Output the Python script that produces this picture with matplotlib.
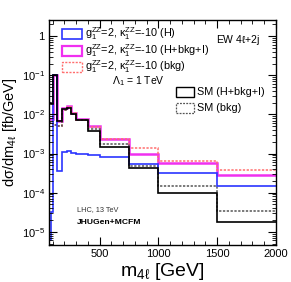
import matplotlib.pyplot as plt
import numpy as np
from matplotlib.patches import Rectangle
from matplotlib.ticker import MultipleLocator, LogLocator, FixedLocator, NullFormatter

plt.rcParams.update({'font.family': ['Liberation Sans', 'DejaVu Sans'],
                     'mathtext.fontset': 'custom',
                     'mathtext.rm': 'Liberation Sans',
                     'mathtext.it': 'Liberation Sans:italic',
                     'mathtext.default': 'regular'})

# bin edges in m4l [GeV]
edges = [70, 90, 100, 140, 180, 220, 260, 300, 400, 500, 750, 1000, 1500, 2000]

# g1=2, k1=-10 curves
bsm_h = [6e-6, 3.3e-5, 0.1, 3.6e-4, 1.1e-3, 1.14e-3, 1.06e-3, 1.0e-3, 9.3e-4, 8.1e-4, 5.4e-4, 3.2e-4, 1.45e-4]
bsm_all = [7.5e-3, 7.5e-3, 0.1, 6.7e-3, 1.45e-2, 1.6e-2, 1.1e-2, 7.6e-3, 5.0e-3, 2.35e-3, 1.0e-3, 5.6e-4, 2.9e-4]
bsm_bkg = [6.0e-3, 6.0e-3, 5.5e-3, 5.2e-3, 1.3e-2, 1.55e-2, 1.1e-2, 7.3e-3, 4.7e-3, 2.4e-3, 1.35e-3, 6.4e-4, 3.7e-4]

# SM curves
sm_all = [2.0e-2, 1.8e-2, 0.1, 6.7e-3, 1.35e-2, 1.5e-2, 1.0e-2, 7.1e-3, 3.7e-3, 1.45e-3, 4.2e-4, 9.6e-5, 1.8e-5]
sm_bkg = [6.0e-3, 6.0e-3, 5.5e-3, 5.2e-3, 1.3e-2, 1.5e-2, 1.05e-2, 7.2e-3, 4.3e-3, 1.8e-3, 4.8e-4, 1.5e-4, 3.5e-5]

W, H = 291, 282
fig = plt.figure(figsize=(W / 100, H / 100), dpi=100)
ax = fig.add_axes([49 / W, 1 - 245 / H, 227 / W, 225 / H])

blue = '#2b35ff'
magenta = '#f030f0'
pink = '#ff6f6f'
grey = '#555555'

ax.stairs(bsm_all, edges, baseline=None, color=magenta, lw=1.8)
ax.stairs(bsm_bkg, edges, baseline=None, color=pink, lw=1.1, ls=(0, (1.5, 1)))
ax.stairs(sm_bkg, edges, baseline=None, color=grey, lw=1.1, ls=(0, (1.5, 1)))
ax.stairs(bsm_h, edges, baseline=None, color=blue, lw=1.2)
ax.stairs(sm_all, edges, baseline=None, color='black', lw=1.2)

ax.set_yscale('log')
ax.set_xlim(70, 2000)
ax.set_ylim(4.6e-6, 2.6)

ax.xaxis.set_major_locator(FixedLocator([500, 1000, 1500, 2000]))
ax.xaxis.set_minor_locator(MultipleLocator(100))
ax.yaxis.set_minor_locator(LogLocator(base=10, subs=np.arange(2, 10), numticks=20))
ax.yaxis.set_minor_formatter(NullFormatter())
ax.set_yticks([1e-5, 1e-4, 1e-3, 1e-2, 1e-1, 1])
ax.set_yticklabels(['10$^{-5}$', '10$^{-4}$', '10$^{-3}$', '10$^{-2}$', '10$^{-1}$', '1'])
ax.tick_params(which='both', direction='in', top=True, right=True, labelsize=8, pad=3)
ax.tick_params(which='major', length=6, width=0.8)
ax.tick_params(which='minor', length=3, width=0.6)
for s in ax.spines.values():
    s.set_linewidth(1.0)

ax.set_xlabel(r'm$_{4\ell}$ [GeV]', fontsize=14, labelpad=1)
ax.set_ylabel(r'd$\sigma$/dm$_{4\ell}$ [fb/GeV]', fontsize=10.5, labelpad=2)


def fx(px):
    return (px - 49) / 227


def fy(py):
    return (245 - py) / 225


def legend_row(x0, y, w, h, color, ls, lw, label):
    ax.add_patch(Rectangle((fx(x0), fy(y + h / 2)), w / 227, h / 225, transform=ax.transAxes,
                           facecolor='white', edgecolor=color, ls=ls, lw=lw, clip_on=False))
    ax.text(fx(x0 + w + 3), fy(y), label, transform=ax.transAxes, fontsize=7.8,
            va='center', ha='left')


legend_row(62, 34, 20, 10, blue, '-', 1.2, r'g$_1^{ZZ}$=2, κ$_1^{ZZ}$=-10 (H)')
legend_row(62, 51, 20, 10, magenta, '-', 1.6, r'g$_1^{ZZ}$=2, κ$_1^{ZZ}$=-10 (H+bkg+I)')
legend_row(62, 67, 20, 10, pink, (0, (1.5, 1)), 1.0, r'g$_1^{ZZ}$=2, κ$_1^{ZZ}$=-10 (bkg)')
ax.text(fx(112), fy(81), r'Λ$_1$ = 1 TeV', transform=ax.transAxes, fontsize=7.5, va='center')

legend_row(176, 92, 18, 10, 'black', '-', 1.0, 'SM (H+bkg+I)')
legend_row(176, 108, 18, 10, grey, (0, (1.5, 1)), 0.9, 'SM (bkg)')

ax.text(fx(216), fy(40), r'EW 4$\ell$+2j', transform=ax.transAxes, fontsize=7.5, va='center')
ax.text(fx(77), fy(210), 'LHC, 13 TeV', transform=ax.transAxes, fontsize=5.3, va='center', color='#333333')
ax.text(fx(77), fy(222), 'JHUGen+MCFM', transform=ax.transAxes, fontsize=6.1, va='center', fontweight='bold')

fig.savefig('out.png', dpi=100)
